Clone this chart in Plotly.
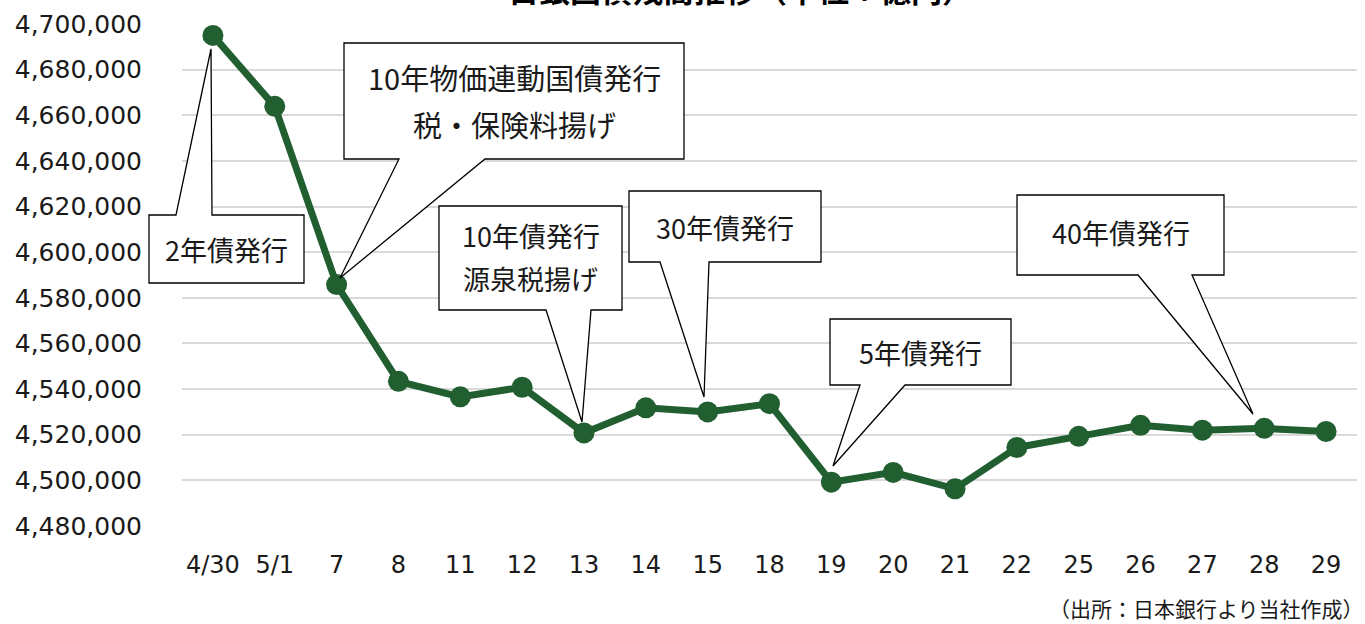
import plotly.graph_objects as go

# ---- data ----
dates = ["4/30", "5/1", "7", "8", "11", "12", "13", "14", "15", "18",
         "19", "20", "21", "22", "25", "26", "27", "28", "29"]
balance = [4695000, 4663900, 4585800, 4543400, 4536600, 4540800, 4520800,
           4531800, 4530000, 4533600, 4499200, 4503500, 4496300, 4514400,
           4519300, 4524100, 4522000, 4522800, 4521400]
y_ticks = list(range(4480000, 4700001, 20000))

title_text = "日銀国債残高推移（単位：億円）"
source_text = "（出所：日本銀行より当社作成）"

# callout texts (lines)
callout_texts = [
    ["2年債発行"],
    ["10年物価連動国債発行", "税・保険料揚げ"],
    ["10年債発行", "源泉税揚げ"],
    ["30年債発行"],
    ["5年債発行"],
    ["40年債発行"],
]

# ---- layout geometry (pixels) ----
W, H = 1365, 624
L, R, T, B = 182, 8, 24, 98
PW, PH = W - L - R, H - T - B


def to_paper(px, py):
    return (px - L) / PW, (H - B - py) / PH


# callout geometry: box (left, top, right, bottom), tail base on edge, tip
callouts_geom = [
    dict(box=(149, 215, 304, 283), base=(176, 212), tip=(211, 49), edge="top",
         lines_y=[249], size=27),
    dict(box=(344, 43, 684, 159), base=(399, 485), tip=(340, 278), edge="bottom",
         lines_y=[77, 124], size=29),
    dict(box=(439, 206, 622, 310), base=(546, 591), tip=(582, 422), edge="bottom",
         lines_y=[236, 278], size=27),
    dict(box=(629, 191, 821, 262), base=(660, 709), tip=(704, 397), edge="bottom",
         lines_y=[227], size=27),
    dict(box=(830, 319, 1011, 385), base=(860, 905), tip=(833, 466), edge="bottom",
         lines_y=[352], size=27),
    dict(box=(1017, 195, 1224, 275), base=(1138, 1192), tip=(1253, 414), edge="bottom",
         lines_y=[233], size=27),
]

fig = go.Figure()
fig.add_trace(go.Scatter(
    x=dates, y=balance, mode="lines+markers",
    line=dict(color="#215F30", width=7),
    marker=dict(color="#215F30", size=21),
    cliponaxis=False, hoverinfo="x+y", showlegend=False,
))

shapes = []
annotations = []
for geom, texts in zip(callouts_geom, callout_texts):
    l, t, r, b = geom["box"]
    xa, xb = geom["base"]
    tx, ty = geom["tip"]
    if geom["edge"] == "top":
        pts = [(l, t), (xa, t), (tx, ty), (xb, t), (r, t), (r, b), (l, b)]
    else:
        pts = [(l, t), (r, t), (r, b), (xb, b), (tx, ty), (xa, b), (l, b)]
    pp = [to_paper(*p) for p in pts]
    path = "M " + " L ".join(f"{x:.5f},{y:.5f}" for x, y in pp) + " Z"
    shapes.append(dict(type="path", path=path, xref="paper", yref="paper",
                       fillcolor="white", line=dict(color="black", width=1.3),
                       layer="above"))
    cx = (l + r) / 2
    for txt, ly in zip(texts, geom["lines_y"]):
        ax, ay = to_paper(cx, ly)
        annotations.append(dict(
            x=ax, y=ay, xref="paper", yref="paper", text=txt, showarrow=False,
            xanchor="center", yanchor="middle",
            font=dict(family="Noto Sans CJK JP", size=geom["size"], color="#1a1a1a"),
        ))

# title (cut off at the top edge, as in the reference)
tx_, ty_ = to_paper(740, 0)
annotations.append(dict(
    x=tx_, y=ty_, xref="paper", yref="paper", text=f"<b>{title_text}</b>",
    showarrow=False, xanchor="center", yanchor="middle", yshift=12,
    font=dict(family="Noto Sans CJK JP", size=31, color="black"),
))
# source
sx, sy = to_paper(1366, 608)
annotations.append(dict(
    x=sx, y=sy, xref="paper", yref="paper", text=source_text, showarrow=False,
    xanchor="right", yanchor="middle",
    font=dict(family="Noto Sans CJK JP", size=21, color="#1a1a1a"),
))

fig.update_layout(
    width=W, height=H,
    margin=dict(l=L, r=R, t=T, b=B, pad=0),
    paper_bgcolor="white", plot_bgcolor="white",
    shapes=shapes, annotations=annotations,
    xaxis=dict(type="category", range=[-0.5, len(dates) - 0.5],
               showgrid=False, zeroline=False, showline=False,
               ticks="", ticklabelstandoff=22,
               tickfont=dict(family="DejaVu Sans", size=24, color="#1a1a1a")),
    yaxis=dict(range=[y_ticks[0], y_ticks[-1]], tickvals=y_ticks,
               tickformat=",d", showgrid=True, gridcolor="#d9d9d9", gridwidth=1.6,
               zeroline=False, showline=False, ticks="", ticklabelstandoff=39,
               tickfont=dict(family="DejaVu Sans", size=25, color="#1a1a1a")),
)

fig.write_html(
    "out.html",
    config={"displayModeBar": False},
    post_script="document.body.style.margin='0';document.body.style.overflow='hidden';",
)
